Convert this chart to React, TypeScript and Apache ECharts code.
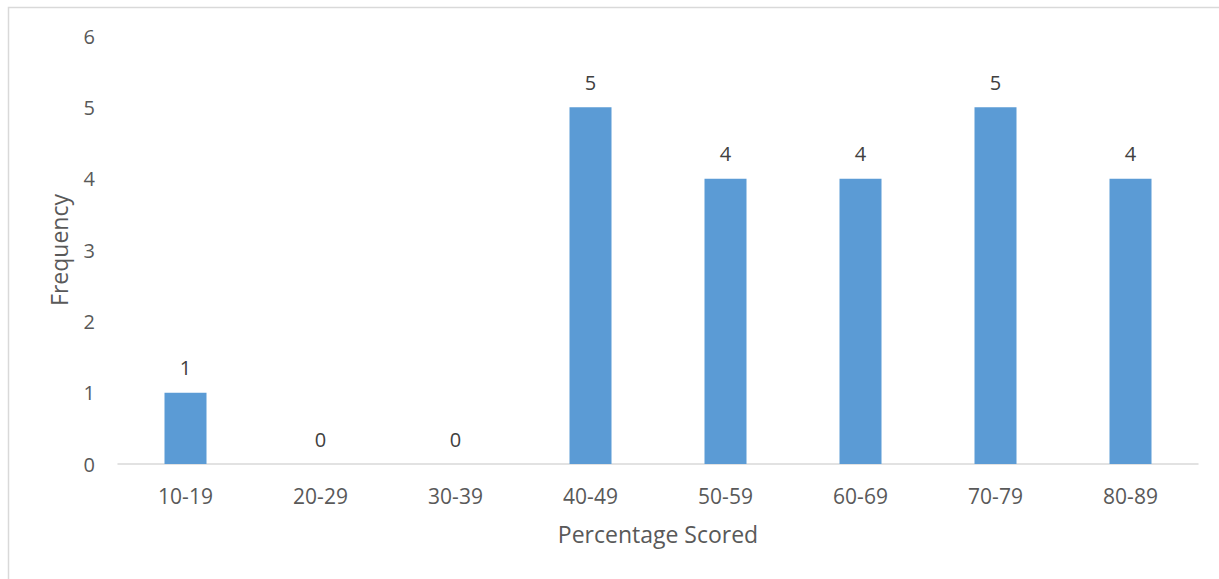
import React, { useEffect, useRef } from "react";
import * as echarts from "echarts";

const categories = ["10-19", "20-29", "30-39", "40-49", "50-59", "60-69", "70-79", "80-89"];
const frequencies = [1, 0, 0, 5, 4, 4, 5, 4];
const xAxisTitle = "Percentage Scored";
const yAxisTitle = "Frequency";

const FONT = "'Open Sans', 'Noto Sans', sans-serif";

export default function App() {
  const ref = useRef<HTMLDivElement>(null);
  useEffect(() => {
    if (!ref.current) return;
    const chart = echarts.init(ref.current, undefined, { renderer: "svg" });
    chart.setOption({
      animation: false,
      backgroundColor: "#ffffff",
      textStyle: { fontFamily: FONT },
      graphic: [
        {
          type: "rect",
          shape: { x: 8.5, y: 7.5, width: 1300, height: 700 },
          style: { fill: "none", stroke: "#d9d9d9", lineWidth: 1.5 },
          silent: true,
        },
      ],
      grid: { left: 118, right: 21, top: 36, bottom: 115, containLabel: false },
      xAxis: {
        type: "category",
        data: categories,
        name: xAxisTitle,
        nameLocation: "middle",
        nameGap: 58,
        nameTextStyle: { fontSize: 23, color: "#595959", fontFamily: FONT },
        axisLine: { show: true, lineStyle: { color: "#d9d9d9", width: 1.5 } },
        axisTick: { show: false },
        axisLabel: { fontSize: 21, color: "#595959", margin: 21, fontFamily: FONT },
      },
      yAxis: {
        type: "value",
        min: 0,
        max: 6,
        interval: 1,
        name: yAxisTitle,
        nameLocation: "middle",
        nameRotate: 90,
        nameGap: 48,
        nameTextStyle: { fontSize: 23, color: "#595959", fontFamily: FONT },
        axisLine: { show: false },
        axisTick: { show: false },
        splitLine: { show: false },
        axisLabel: { fontSize: 20, color: "#595959", margin: 23, fontFamily: FONT },
      },
      series: [
        {
          type: "bar",
          data: frequencies,
          barWidth: 42,
          itemStyle: { color: "#5b9bd5" },
          label: {
            show: true,
            position: "top",
            distance: 15,
            fontSize: 20,
            color: "#404040",
            fontFamily: FONT,
          },
        },
      ],
    });
    return () => chart.dispose();
  }, []);
  return (
    <div
      ref={ref}
      style={{ position: "fixed", left: 0, top: 0, width: 1219, height: 579 }}
    />
  );
}
